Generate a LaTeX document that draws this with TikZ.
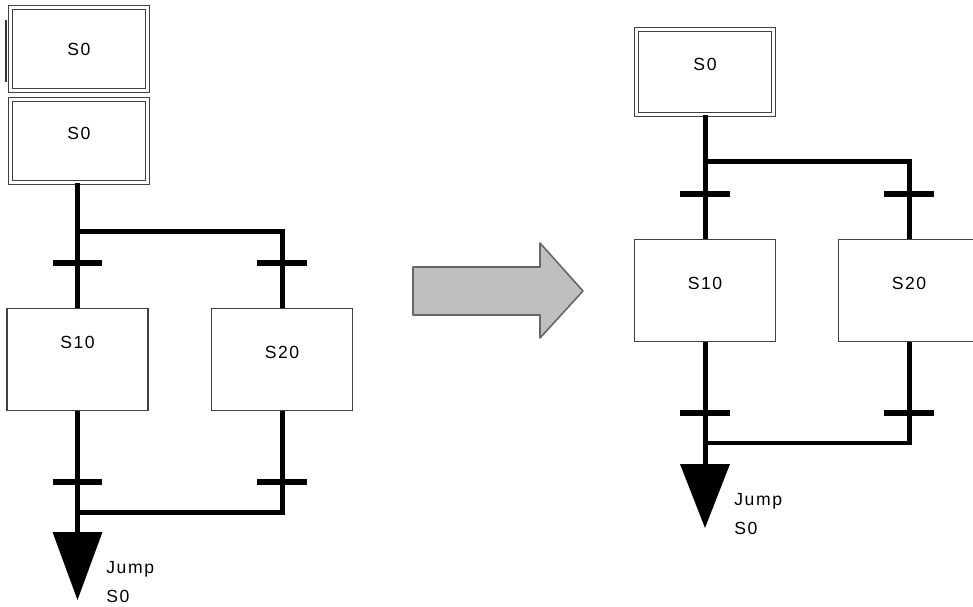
\documentclass[tikz,border=0pt]{standalone}
\usepackage{fontspec}
\setmainfont{Liberation Sans}[LetterSpace=9]
\usetikzlibrary{positioning, calc}

\begin{document}
\begin{tikzpicture}[
  x=0.02cm, y=-0.02cm,
  stepbox/.style={draw=black!75, line width=0.6pt, fill=white, minimum width=2.82cm,
    minimum height=#1, inner sep=0pt, text height=0.25cm, text depth=0.29cm,
    font=\fontsize{10}{12}\selectfont},
  initbox/.style={stepbox={#1}, double, double distance=1.5pt, line width=0.7pt,
    minimum width=2.74cm},
  trans/.style={fill=black, minimum width=1cm, minimum height=0.11cm, inner sep=0pt},
  link/.style={line width=0.1cm},
  jumptxt/.style={font=\fontsize{10}{12}\selectfont, align=left, anchor=west, inner sep=0pt}
]

\useasboundingbox (0,0) rectangle (973,607);
\clip (0,0) rectangle (973,607);

% ---------- vorher (links) ----------
\draw[line width=1.6pt, black!80] (6,20) -- (6,82);
\node[initbox={1.66cm}, text depth=0cm] (s0a) at (79,49) {S0};
\node[initbox={1.66cm}] (s0b) at (79,141) {S0};

% Verzweigung
\coordinate (splitL) at (77.5,232);
\node[stepbox={2.04cm}, text depth=0.69cm] (s10l) at (77.5,359.5) {S10};
\node[stepbox={2.04cm}] (s20l) at (282,359.5) {S20};

\draw[link] (s0b.south -| splitL) -- (s10l.north);
\draw[link] (splitL) -| (s20l.north);

% Transitionen oben
\node[trans] (t1l) at (77.5,263) {};
\node[trans] (t2l) at (282,263) {};

% Zusammenfuehrung + Sprung
\coordinate (joinL) at (77.5,512);
\coordinate (jumpL) at (77.5,532);
\draw[link] (s10l.south) -- (jumpL);
\draw[link] (s20l.south) |- (joinL);
\node[trans] (t3l) at (77.5,482) {};
\node[trans] (t4l) at (282,482) {};
\fill ($(jumpL)+(-25,0)$) -- ($(jumpL)+(25,0)$) -- ($(jumpL)+(0,68)$) -- cycle;
\node[jumptxt] (jmpl) at (106,582.5) {Jump\\[4.5pt]S0};

% ---------- Pfeil ----------
\draw[draw=black!60, line width=0.9pt, fill=gray!50, line join=round]
  (413,267) -- (540,267) -- (540,243) -- (583,291) -- (540,338) -- (540,315)
  -- (413,315) -- cycle;

% ---------- nachher (rechts) ----------
\node[initbox={1.70cm}] (s0r) at (705,72) {S0};

\coordinate (splitR) at (705,162);
\node[stepbox={2.04cm}] (s10r) at (705,290.5) {S10};
\node[stepbox={2.04cm}] (s20r) at (909,290.5) {S20};

\draw[link] (s0r.south) -- (s10r.north);
\draw[link] (splitR) -| (s20r.north);

\node[trans] (t1r) at (705,194) {};
\node[trans] (t2r) at (909,194) {};

\coordinate (joinR) at (705,443);
\coordinate (jumpR) at (705,464);
\draw[link] (s10r.south) -- (jumpR);
\draw[link] (s20r.south) |- (joinR);
\node[trans] (t3r) at (705,413) {};
\node[trans] (t4r) at (909,413) {};
\fill ($(jumpR)+(-25,0)$) -- ($(jumpR)+(25,0)$) -- ($(jumpR)+(0,64)$) -- cycle;
\node[jumptxt] (jmpr) at (734,514.5) {Jump\\[4.5pt]S0};

\end{tikzpicture}
\end{document}
